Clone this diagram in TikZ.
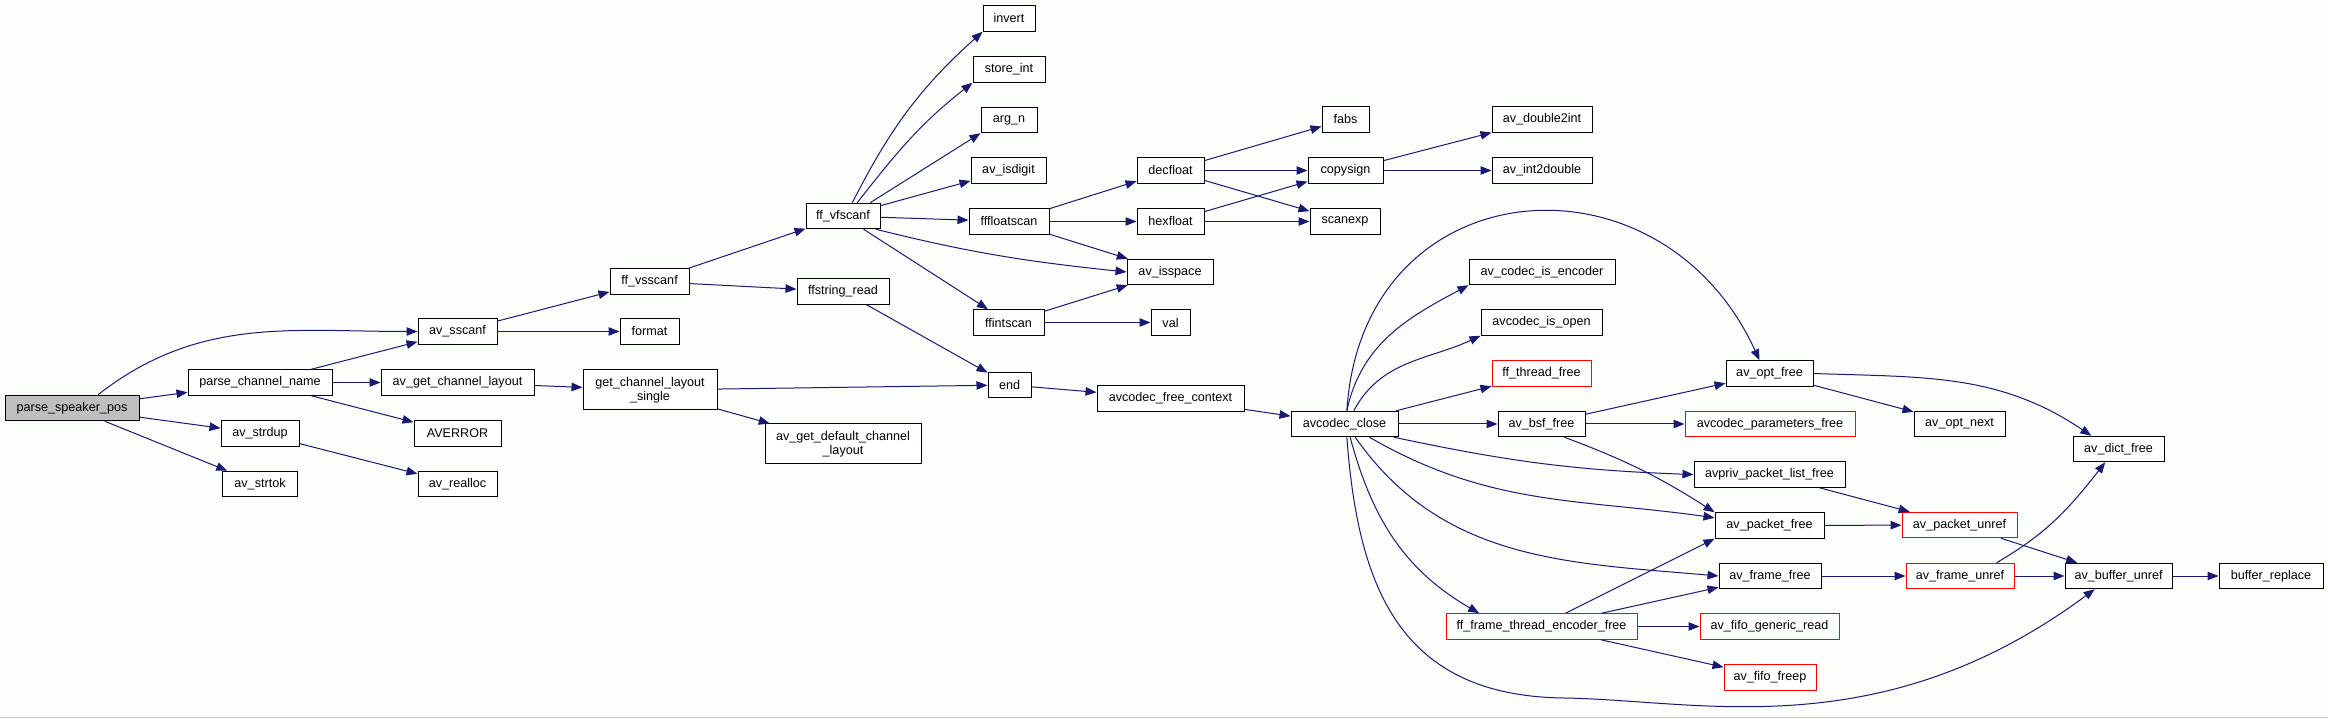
\documentclass[tikz,border=0pt]{standalone}
\usepackage{fontspec}
\setmainfont{Liberation Sans}
\usetikzlibrary{arrows.meta}
\definecolor{ink}   {HTML}{000000}
\definecolor{edge}  {HTML}{191970}
\definecolor{miss}  {HTML}{FF0000}
\definecolor{rootbg}{HTML}{BFBFBF}
\definecolor{pagebg}{HTML}{FCFEFC}
\definecolor{rule}  {HTML}{C8C8C8}
\tikzset{
  fn/.style    ={draw=ink, fill=white, line width=1pt,
                 minimum height=25.5pt, inner sep=2pt,
                 align=center, font=\fontsize{12.6}{14}\selectfont},
  rfn/.style   ={fn, draw=miss},
  rootfn/.style={fn, fill=rootbg},
  arr/.style   ={-{Triangle[length=11pt,width=8.5pt]}, draw=edge, line width=1pt},
}

\begin{document}
\begin{tikzpicture}[x=1pt,y=1pt]
  \useasboundingbox (0,0) rectangle (2328,718);
  \fill[pagebg] (0,0) rectangle (2328,718);
  \draw[rule] (0,0.5) -- (2328,0.5);

  % caller side
  \node[rootfn,minimum width=134] (psp) at (72,310) {parse\_speaker\_pos};
  \node[fn,minimum width=144] (pcn) at (260,335.5) {parse\_channel\_name};
  \node[fn,minimum width=78] (strdup) at (260,284.5) {av\_strdup};
  \node[fn,minimum width=75] (strtok) at (260,234) {av\_strtok};
  \node[fn,minimum width=79] (sscanf) at (457.5,386.5) {av\_sscanf};
  \node[fn,minimum width=153] (agcl) at (457.5,335.5) {av\_get\_channel\_layout};
  \node[fn,minimum width=87] (averror) at (457.5,284.5) {AVERROR};
  \node[fn,minimum width=79] (realloc) at (457.5,234) {av\_realloc};
  \node[fn,minimum width=59] (format) at (649.5,386.5) {format};
  \node[fn,minimum width=79] (vsscanf) at (649.5,436.5) {ff\_vsscanf};
  \node[fn,minimum width=134,minimum height=40] (gcls) at (650,328)
    {get\_channel\_layout\\\_single};

  % scanf internals
  \node[fn,minimum width=74] (vfscanf) at (843,502) {ff\_vfscanf};
  \node[fn,minimum width=92] (ffstring) at (843,426.5) {ffstring\_read};
  \node[fn,minimum width=156,minimum height=40] (agdcl) at (843,274)
    {av\_get\_default\_channel\\\_layout};
  \node[fn,minimum width=52] (invert) at (1009,699.5) {invert};
  \node[fn,minimum width=72] (storeint) at (1009,648.5) {store\_int};
  \node[fn,minimum width=56] (argn) at (1009,598) {arg\_n};
  \node[fn,minimum width=75] (isdigit) at (1008.5,547.5) {av\_isdigit};
  \node[fn,minimum width=80] (fffloat) at (1009,496.5) {fffloatscan};
  \node[fn,minimum width=71] (ffint) at (1008.5,395.5) {ffintscan};
  \node[fn,minimum width=43] (end) at (1009.5,333) {end};
  \node[fn,minimum width=67] (decfloat) at (1170.5,547.5) {decfloat};
  \node[fn,minimum width=67] (hexfloat) at (1170.5,496.5) {hexfloat};
  \node[fn,minimum width=86] (isspace) at (1170,446) {av\_isspace};
  \node[fn,minimum width=39] (val) at (1170.5,395.5) {val};
  \node[fn,minimum width=147] (freectx) at (1170.5,319.5) {avcodec\_free\_context};
  \node[fn,minimum width=47] (fabs) at (1345.5,598.5) {fabs};
  \node[fn,minimum width=75] (copysign) at (1345.5,547.5) {copysign};
  \node[fn,minimum width=70] (scanexp) at (1345,496.5) {scanexp};
  \node[fn,minimum width=100] (dtoi) at (1542,598.5) {av\_double2int};
  \node[fn,minimum width=100] (itod) at (1542,547.5) {av\_int2double};

  % codec teardown
  \node[fn,minimum width=107] (close) at (1344.5,294) {avcodec\_close};
  \node[fn,minimum width=146] (isenc) at (1542,446) {av\_codec\_is\_encoder};
  \node[fn,minimum width=121] (isopen) at (1541.5,395.5) {avcodec\_is\_open};
  \node[rfn,minimum width=99] (thfree) at (1541.5,344.5) {ff\_thread\_free};
  \node[fn,minimum width=87] (bsf) at (1541.5,294) {av\_bsf\_free};
  \node[rfn,minimum width=191] (fte) at (1541.5,91.5) {ff\_frame\_thread\_encoder\_free};
  \node[fn,minimum width=87] (optfree) at (1769.5,344.5) {av\_opt\_free};
  \node[rfn,minimum width=170] (parfree) at (1770,294) {avcodec\_parameters\_free};
  \node[fn,minimum width=151] (pktlist) at (1769.5,243.5) {avpriv\_packet\_list\_free};
  \node[fn,minimum width=109] (pktfree) at (1769.5,192.5) {av\_packet\_free};
  \node[fn,minimum width=102] (frmfree) at (1770,142) {av\_frame\_free};
  \node[rfn,minimum width=139] (fiforead) at (1769.5,91.5) {av\_fifo\_generic\_read};
  \node[rfn,minimum width=92] (fifofreep) at (1770,40.5) {av\_fifo\_freep};
  \node[fn,minimum width=91] (optnext) at (1959.5,294) {av\_opt\_next};
  \node[rfn,minimum width=115] (pktunref) at (1959.5,193) {av\_packet\_unref};
  \node[rfn,minimum width=108] (frmunref) at (1960,142) {av\_frame\_unref};
  \node[fn,minimum width=91] (dictfree) at (2118.5,269) {av\_dict\_free};
  \node[fn,minimum width=107] (bufunref) at (2118.5,142) {av\_buffer\_unref};
  \node[fn,minimum width=104] (bufrepl) at (2271,142) {buffer\_replace};
  \coordinate (dip) at (1564,20);

  % calls
  \draw[arr] (psp.27) to[out=38,in=180] (sscanf.west);
  \draw[arr] (psp) -- (pcn);
  \draw[arr] (psp) -- (strdup);
  \draw[arr] (psp) -- (strtok);
  \draw[arr] (pcn) -- (sscanf);
  \draw[arr] (pcn) -- (agcl);
  \draw[arr] (pcn) -- (averror);
  \draw[arr] (strdup) -- (realloc);
  \draw[arr] (sscanf) -- (vsscanf);
  \draw[arr] (sscanf) -- (format);
  \draw[arr] (agcl) -- (gcls);
  \draw[arr] (gcls) -- (end);
  \draw[arr] (gcls) -- (agdcl);
  \draw[arr] (vsscanf) -- (vfscanf);
  \draw[arr] (vsscanf) -- (ffstring);
  \draw[arr] (ffstring) -- (end);

  \draw[arr] (vfscanf.55) to[out=63,in=222] (invert.south west);
  \draw[arr] (vfscanf.43) to[out=52,in=218] (storeint.south west);
  \draw[arr] (vfscanf.26) -- (argn.south west);
  \draw[arr] (vfscanf) -- (isdigit);
  \draw[arr] (vfscanf) -- (fffloat);
  \draw[arr] (vfscanf.-22) to[out=-14,in=174] (isspace.west);
  \draw[arr] (vfscanf) -- (ffint);
  \draw[arr] (fffloat) -- (decfloat);
  \draw[arr] (fffloat) -- (hexfloat);
  \draw[arr] (fffloat) -- (isspace);
  \draw[arr] (ffint) -- (isspace);
  \draw[arr] (ffint) -- (val);
  \draw[arr] (decfloat) -- (fabs);
  \draw[arr] (decfloat) -- (copysign);
  \draw[arr] (decfloat) -- (scanexp);
  \draw[arr] (hexfloat) -- (copysign);
  \draw[arr] (hexfloat) -- (scanexp);
  \draw[arr] (copysign) -- (dtoi);
  \draw[arr] (copysign) -- (itod);

  \draw[arr] (end) -- (freectx);
  \draw[arr] (freectx) -- (close);
  \draw[arr] (close.80) .. controls (1362,550) and (1660,575) .. ([xshift=-10pt]optfree.north);
  \draw[arr] (close.80) to[out=78,in=208] (isenc.south west);
  \draw[arr] (close.55) to[out=62,in=205] (isopen.south west);
  \draw[arr] (close) -- (thfree);
  \draw[arr] (close) -- (bsf);
  \draw[arr] (close.-15) to[out=-12,in=178] (pktlist.west);
  \draw[arr] (close.-28) to[out=-30,in=172] (pktfree.172);
  \draw[arr] (close.-51) to[out=-55,in=175] (frmfree.west);
  \draw[arr] (close.-67) to[out=-75,in=150] (fte.168);
  \draw[arr] (close.-80) .. controls (1358,130) and (1400,22) .. (dip)
    .. controls (1700,18) and (1880,-30) .. (bufunref.209);

  \draw[arr] (bsf) -- (optfree);
  \draw[arr] (bsf) -- (parfree);
  \draw[arr] (bsf.-30) to[bend left=6] (pktfree.north west);
  \draw[arr] (optfree.east) to[out=-2,in=146] (dictfree.154);
  \draw[arr] (optfree) -- (optnext);
  \draw[arr] (pktlist) -- (pktunref);
  \draw[arr] (pktfree) -- (pktunref);
  \draw[arr] (frmfree) -- (frmunref);
  \draw[arr] (fte.29) -- (pktfree.south west);
  \draw[arr] (fte) -- (frmfree);
  \draw[arr] (fte) -- (fiforead);
  \draw[arr] (fte) -- (fifofreep);
  \draw[arr] (pktunref) -- (bufunref);
  \draw[arr] (frmunref) -- (bufunref);
  \draw[arr] (frmunref.20) to[out=30,in=232] (dictfree.225);
  \draw[arr] (bufunref) -- (bufrepl);
\end{tikzpicture}
\end{document}
